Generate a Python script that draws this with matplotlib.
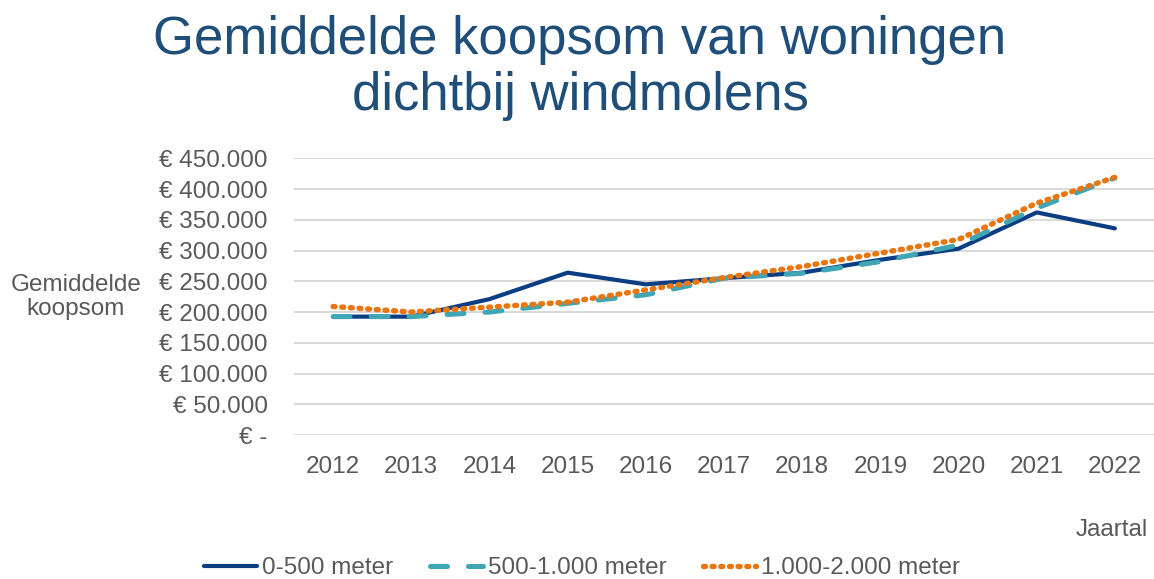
import matplotlib.pyplot as plt
from matplotlib.ticker import FuncFormatter

plt.rcParams['font.family'] = ['Liberation Sans', 'DejaVu Sans']

# Gemiddelde koopsom per afstandsklasse
jaren = ['2012', '2013', '2014', '2015', '2016', '2017', '2018', '2019', '2020', '2021', '2022']
afstand_0_500 = [192500, 192500, 221000, 264000, 245000, 255000, 264000, 285000, 303000, 362000, 336000]
afstand_500_1000 = [192500, 192500, 200000, 214000, 228000, 255000, 263000, 282000, 309000, 369000, 418000]
afstand_1000_2000 = [209000, 200000, 208000, 216000, 236000, 256000, 274000, 296000, 318000, 377000, 419000]
y_ticks = [0, 50000, 100000, 150000, 200000, 250000, 300000, 350000, 400000, 450000]

tekst_kleur = '#595959'
fs = 17.5

fig = plt.figure(figsize=(11.54, 5.79), dpi=100)
ax = fig.add_axes([294 / 1154, 1 - 435 / 579, 1 - 294 / 1154, (435 - 158.3) / 579])

x = range(len(jaren))
ax.plot(x, afstand_0_500, color='#0A3D82', lw=3.0, solid_capstyle='round',
        label='0-500 meter', zorder=3)
ax.plot(x, afstand_500_1000, color='#40A5B5', lw=3.6, linestyle=(0, (3.4, 4.2)),
        dash_capstyle='round', label='500-1.000 meter', zorder=4)
ax.plot(x, afstand_1000_2000, color='#E8760F', lw=3.9, linestyle=(0, (0.35, 1.25)),
        dash_capstyle='round', label='1.000-2.000 meter', zorder=5)

ax.set_xlim(-0.5, len(jaren) - 0.5)
ax.set_ylim(0, 450000)
ax.set_xticks(list(x))
ax.set_xticklabels(jaren)
ax.set_yticks(y_ticks)


def euro(v, pos):
    if v == 0:
        return '€ -'
    return '€ ' + f'{int(v):,}'.replace(',', '.')


ax.yaxis.set_major_formatter(FuncFormatter(euro))
ax.grid(axis='y', color='#D9D9D9', lw=1.4)
ax.set_axisbelow(True)
for s in ax.spines.values():
    s.set_visible(False)
ax.tick_params(axis='both', length=0, labelsize=fs, labelcolor=tekst_kleur)
ax.tick_params(axis='y', pad=19)
ax.tick_params(axis='x', pad=15)

fig.text(580 / 1154, 1 - 68 / 579, 'Gemiddelde koopsom van woningen\ndichtbij windmolens',
         ha='center', va='center', fontsize=38, color='#1F4E79', linespacing=1.13)
fig.text(76 / 1154, 1 - 297 / 579, 'Gemiddelde\nkoopsom', ha='center', va='center',
         multialignment='center', fontsize=fs, color=tekst_kleur, linespacing=1.15)
fig.text(1148 / 1154, 1 - 530 / 579, 'Jaartal', ha='right', va='center',
         fontsize=fs, color=tekst_kleur)

fig.legend(loc='center', bbox_to_anchor=(582 / 1154, 1 - 568 / 579), ncol=3,
           frameon=False, fontsize=fs, labelcolor=tekst_kleur, handlelength=2.2,
           handletextpad=0.2, columnspacing=1.5, borderaxespad=0)

fig.savefig('out.png', dpi=100)
